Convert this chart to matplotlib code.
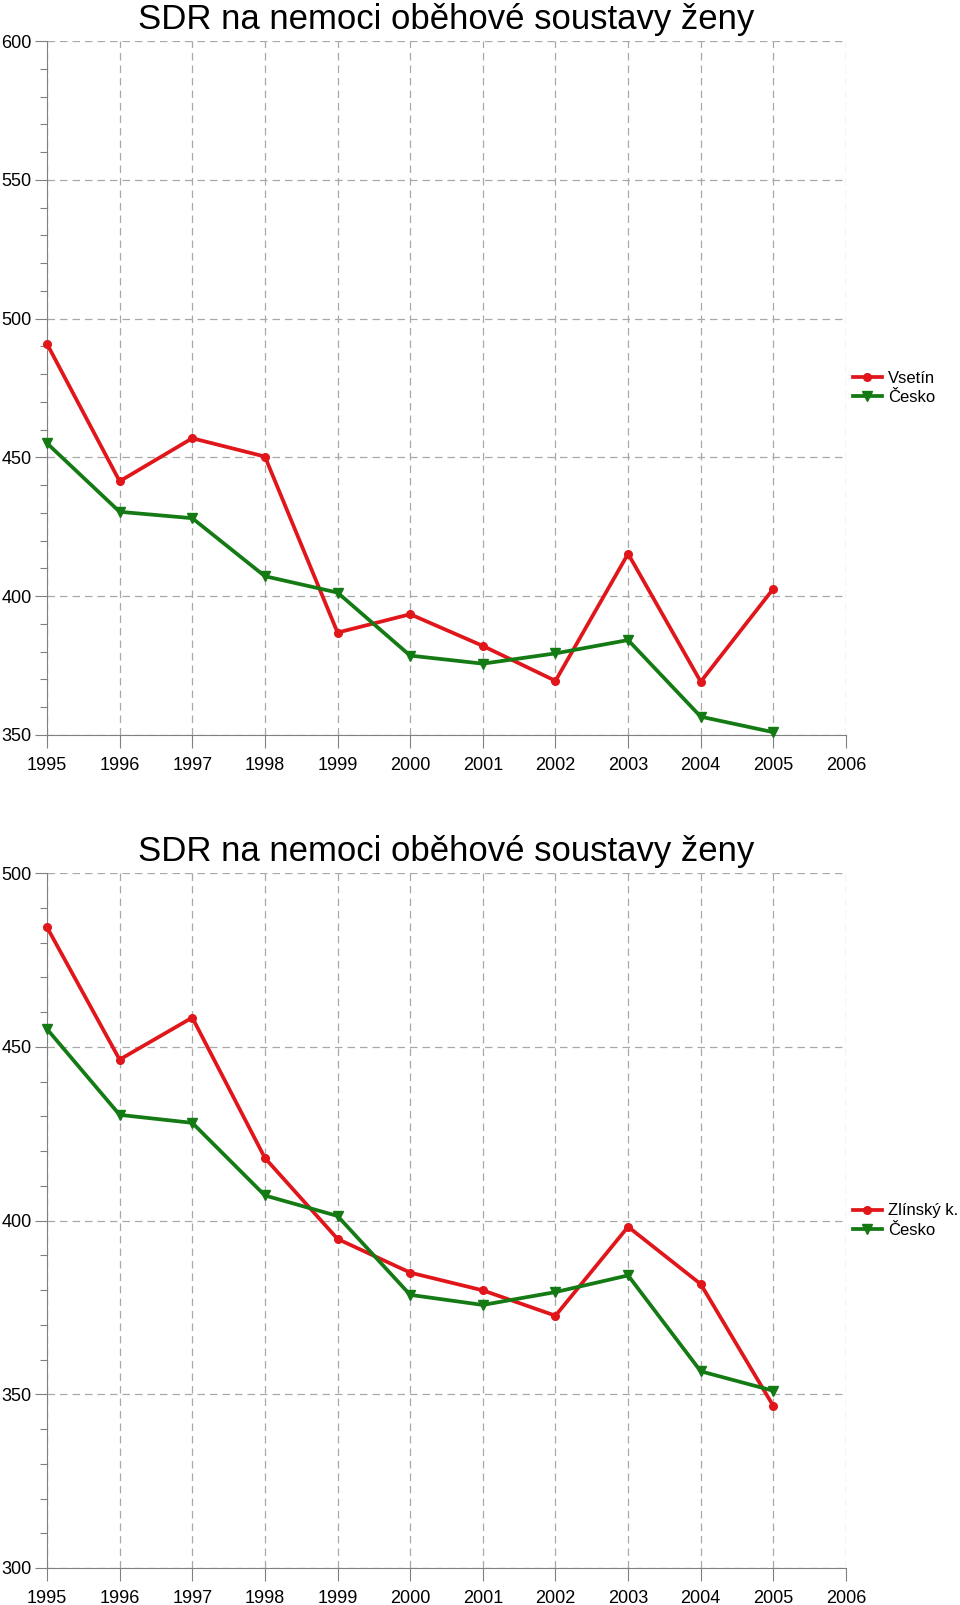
import matplotlib
matplotlib.use("Agg")
import matplotlib.pyplot as plt
from matplotlib.ticker import MultipleLocator

plt.rcParams['font.family'] = ['Liberation Sans', 'DejaVu Sans']

years = [1995, 1996, 1997, 1998, 1999, 2000, 2001, 2002, 2003, 2004, 2005]
xticks = list(range(1995, 2007))

title = "SDR na nemoci oběhové soustavy ženy"

vsetin = [490.9, 441.4, 456.9, 450.3, 386.9, 393.5, 382.1, 369.5, 415.3, 369.2, 402.7]
zlinsky = [484.4, 446.3, 458.4, 418.0, 394.7, 385.0, 379.9, 372.6, 398.2, 381.7, 346.6]
cesko = [455.1, 430.4, 428.1, 407.2, 401.3, 378.6, 375.7, 379.4, 384.2, 356.6, 351.0]

label_top = "Vsetín"
label_bottom = "Zlínský k."
label_cz = "Česko"

RED = "#e0161b"
GREEN = "#147a14"
GRID = "#a8a8a8"
SPINE = "#808080"

fig = plt.figure(figsize=(9.6, 16.05), dpi=100)

W, H = 960, 1605
def ax_rect(left, right, top, bottom):
    return [left / W, 1 - bottom / H, (right - left) / W, (bottom - top) / H]

ax1 = fig.add_axes(ax_rect(47, 846, 41, 735))
ax2 = fig.add_axes(ax_rect(47, 846, 873, 1568))

def style(ax, ylim, local, lab):
    ax.plot(years, local, color=RED, lw=2.7, marker='o', ms=5.5,
            markeredgecolor=RED, label=lab, zorder=3, clip_on=False)
    ax.plot(years, cesko, color=GREEN, lw=2.7, marker='v', ms=7,
            markeredgecolor=GREEN, label=label_cz, zorder=3, clip_on=False)
    ax.set_xlim(1995, 2006)
    ax.set_ylim(*ylim)
    ax.set_xticks(xticks)
    ax.set_xticklabels([str(x) for x in xticks])
    ax.yaxis.set_major_locator(MultipleLocator(50))
    ax.yaxis.set_minor_locator(MultipleLocator(10))
    ax.grid(True, which='major', color=GRID, linestyle=(0, (6, 4)), linewidth=0.9)
    ax.set_axisbelow(True)
    for s in ['top', 'right']:
        ax.spines[s].set_visible(False)
    for s in ['left', 'bottom']:
        ax.spines[s].set_color(SPINE)
        ax.spines[s].set_linewidth(0.8)
    ax.tick_params(axis='both', which='major', direction='out', length=9,
                   width=0.8, color=SPINE, labelsize=13, labelcolor='black')
    ax.tick_params(axis='y', which='minor', direction='out', length=5,
                   width=0.8, color=SPINE)
    ax.tick_params(axis='y', pad=2)
    ax.tick_params(axis='x', pad=7)
    ax.set_title(title, fontsize=25, pad=9)
    ax.legend(loc='center left', bbox_to_anchor=(1.0, 0.5), frameon=False,
              fontsize=12, handlelength=1.75, handletextpad=0.35,
              borderaxespad=0.2, labelspacing=0.25, borderpad=0.2)

style(ax1, (350, 600), vsetin, label_top)
style(ax2, (300, 500), zlinsky, label_bottom)

fig.savefig("out.png", dpi=100)
